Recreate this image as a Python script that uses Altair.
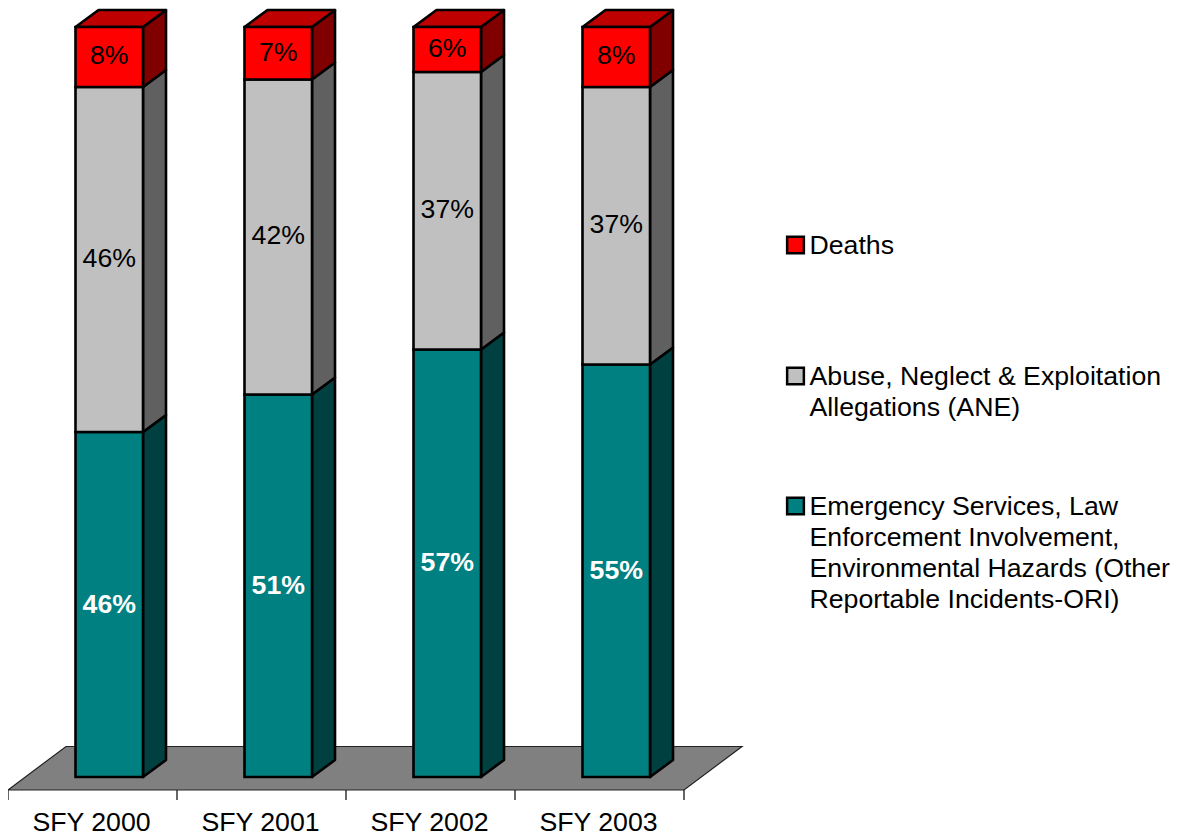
import json
import altair as alt
import pandas as pd

categories = ["SFY 2000", "SFY 2001", "SFY 2002", "SFY 2003"]
ori = [46, 51, 57, 55]
ane = [46, 42, 37, 37]
deaths = [8, 7, 6, 8]

series_names = [
    "Deaths",
    "Abuse, Neglect & Exploitation\nAllegations (ANE)",
    "Emergency Services, Law\nEnforcement Involvement,\nEnvironmental Hazards (Other\nReportable Incidents-ORI)",
]
front_colors = ["#FF0000", "#C0C0C0", "#008080"]
side_colors = {"Deaths": "#800000", series_names[1]: "#606060", series_names[2]: "#004040"}
top_color = "#BF0000"
floor_color = "#808080"
FONT = "Liberation Sans"
FS = 26.7

# scales: one category = 169 px, 100 % = 750 px
PX_X, PX_Y = 169.0, 7.5
W, H = 1166, 782
x_dom = [0, W / PX_X]
y_low = -13 / PX_Y
y_dom = [y_low, y_low + H / PX_Y]
bar_start, bar_w = 0.3994, 0.3994
dx, dy = 23 / PX_X, 17 / PX_Y
fdx, fdy = 58 / PX_X, 43.5 / PX_Y


def page_x(px):
    return (px - 8) / PX_X


def page_y(py):
    return (777 - py) / PX_Y


front, text, faces = [], [], []
for i, cat in enumerate(categories):
    x0 = i + bar_start
    x1 = x0 + bar_w
    base = 0
    for name, val in [(series_names[2], ori[i]), (series_names[1], ane[i]), (series_names[0], deaths[i])]:
        top = base + val
        front.append(dict(x0=x0, x1=x1, y0=base, y1=top, series=name))
        text.append(dict(x=(x0 + x1) / 2, y=(base + top) / 2, label=f"{val}%",
                         kind="ori" if name == series_names[2] else "other"))
        fid = f"side-{i}-{name[:3]}"
        faces.append(dict(fid=fid, x=x1, y=base, y2=top, c=side_colors[name]))
        faces.append(dict(fid=fid, x=x1 + dx, y=base + dy, y2=top + dy, c=side_colors[name]))
        base = top
    fid = f"top-{i}"
    for xv, lo, hi in [(x0, base, base), (x0 + dx, base, base + dy),
                       (x1, base, base + dy), (x1 + dx, base + dy, base + dy)]:
        faces.append(dict(fid=fid, x=xv, y=lo, y2=hi, c=top_color))

n = len(categories)
floor = [
    dict(x=0, y=y_low, y2=y_low),
    dict(x=fdx, y=y_low, y2=y_low + fdy),
    dict(x=n, y=y_low, y2=y_low + fdy),
    dict(x=n + fdx, y=y_low + fdy, y2=y_low + fdy),
]

legend_sym_y = [245, 376, 506]
legend_text_base = [253.5, 384.5, 514.5]
legend_df = pd.DataFrame({
    "name": series_names,
    "sx": [page_x(795.5)] * 3,
    "tx": [page_x(809.5)] * 3,
    "sy": [page_y(v) for v in legend_sym_y],
    "ty": [page_y(v) for v in legend_text_base],
})

xs = alt.Scale(domain=x_dom, nice=False, zero=False)
ys = alt.Scale(domain=y_dom, nice=False, zero=False)
color_scale = alt.Scale(domain=series_names, range=front_colors)

label_expr = f"datum.value < {n} ? {json.dumps(categories)}[datum.value] : ''"
x_axis = alt.Axis(values=list(range(n + 1)), domain=False, grid=False, title=None,
                  tickColor="#000000", tickSize=10, tickWidth=1.2, labelAngle=0,
                  labelFont=FONT, labelFontSize=FS, labelColor="#000000",
                  labelOffset=83.5, labelPadding=10, labelExpr=label_expr, labelOverlap=False,
                  labelFlush=False, translate=0)

floor_layer = alt.Chart(pd.DataFrame(floor)).mark_area(
    fill=floor_color, stroke="#222222", strokeWidth=1.2, opacity=1
).encode(
    x=alt.X("x:Q", scale=xs, axis=x_axis),
    y=alt.Y("y:Q", scale=ys, axis=None),
    y2="y2:Q",
)

faces_layer = alt.Chart(pd.DataFrame(faces)).mark_area(
    stroke="#000000", strokeWidth=2.6, strokeJoin="round", opacity=1
).encode(
    x=alt.X("x:Q", scale=xs),
    y=alt.Y("y:Q", scale=ys),
    y2="y2:Q",
    detail="fid:N",
    fill=alt.Fill("c:N", scale=None),
)

front_layer = alt.Chart(pd.DataFrame(front)).mark_rect(
    stroke="#000000", strokeWidth=2.6, opacity=1
).encode(
    x=alt.X("x0:Q", scale=xs),
    x2="x1:Q",
    y=alt.Y("y0:Q", scale=ys),
    y2="y1:Q",
    color=alt.Color("series:N", scale=color_scale, legend=None),
)

text_df = pd.DataFrame(text)
label_other = alt.Chart(text_df[text_df.kind == "other"]).mark_text(
    font=FONT, fontSize=FS, color="#000000", baseline="middle", dy=-0.7
).encode(x=alt.X("x:Q", scale=xs), y=alt.Y("y:Q", scale=ys), text="label:N")
label_ori = alt.Chart(text_df[text_df.kind == "ori"]).mark_text(
    font=FONT, fontSize=FS, fontWeight="bold", color="#FFFFFF", baseline="middle"
).encode(x=alt.X("x:Q", scale=xs), y=alt.Y("y:Q", scale=ys), text="label:N")

legend_symbols = alt.Chart(legend_df).mark_square(
    size=280, stroke="#000000", strokeWidth=2.5, opacity=1, filled=True
).encode(
    x=alt.X("sx:Q", scale=xs),
    y=alt.Y("sy:Q", scale=ys),
    color=alt.Color("name:N", scale=color_scale, legend=None),
)
legend_text = alt.Chart(legend_df).mark_text(
    font=FONT, fontSize=FS, color="#000000", align="left", baseline="alphabetic",
    lineBreak="\n", lineHeight=31,
).encode(
    x=alt.X("tx:Q", scale=xs),
    y=alt.Y("ty:Q", scale=ys),
    text="name:N",
)

chart = alt.layer(
    floor_layer, faces_layer, front_layer, label_other, label_ori, legend_symbols, legend_text
).properties(
    width=W, height=H,
    autosize=alt.AutoSizeParams(type="none"),
    padding={"left": 0, "top": 0, "right": 0, "bottom": 46},
    background="#FFFFFF",
).configure_view(stroke=None)

chart.save("out.html", embed_options={"renderer": "svg", "actions": False})
